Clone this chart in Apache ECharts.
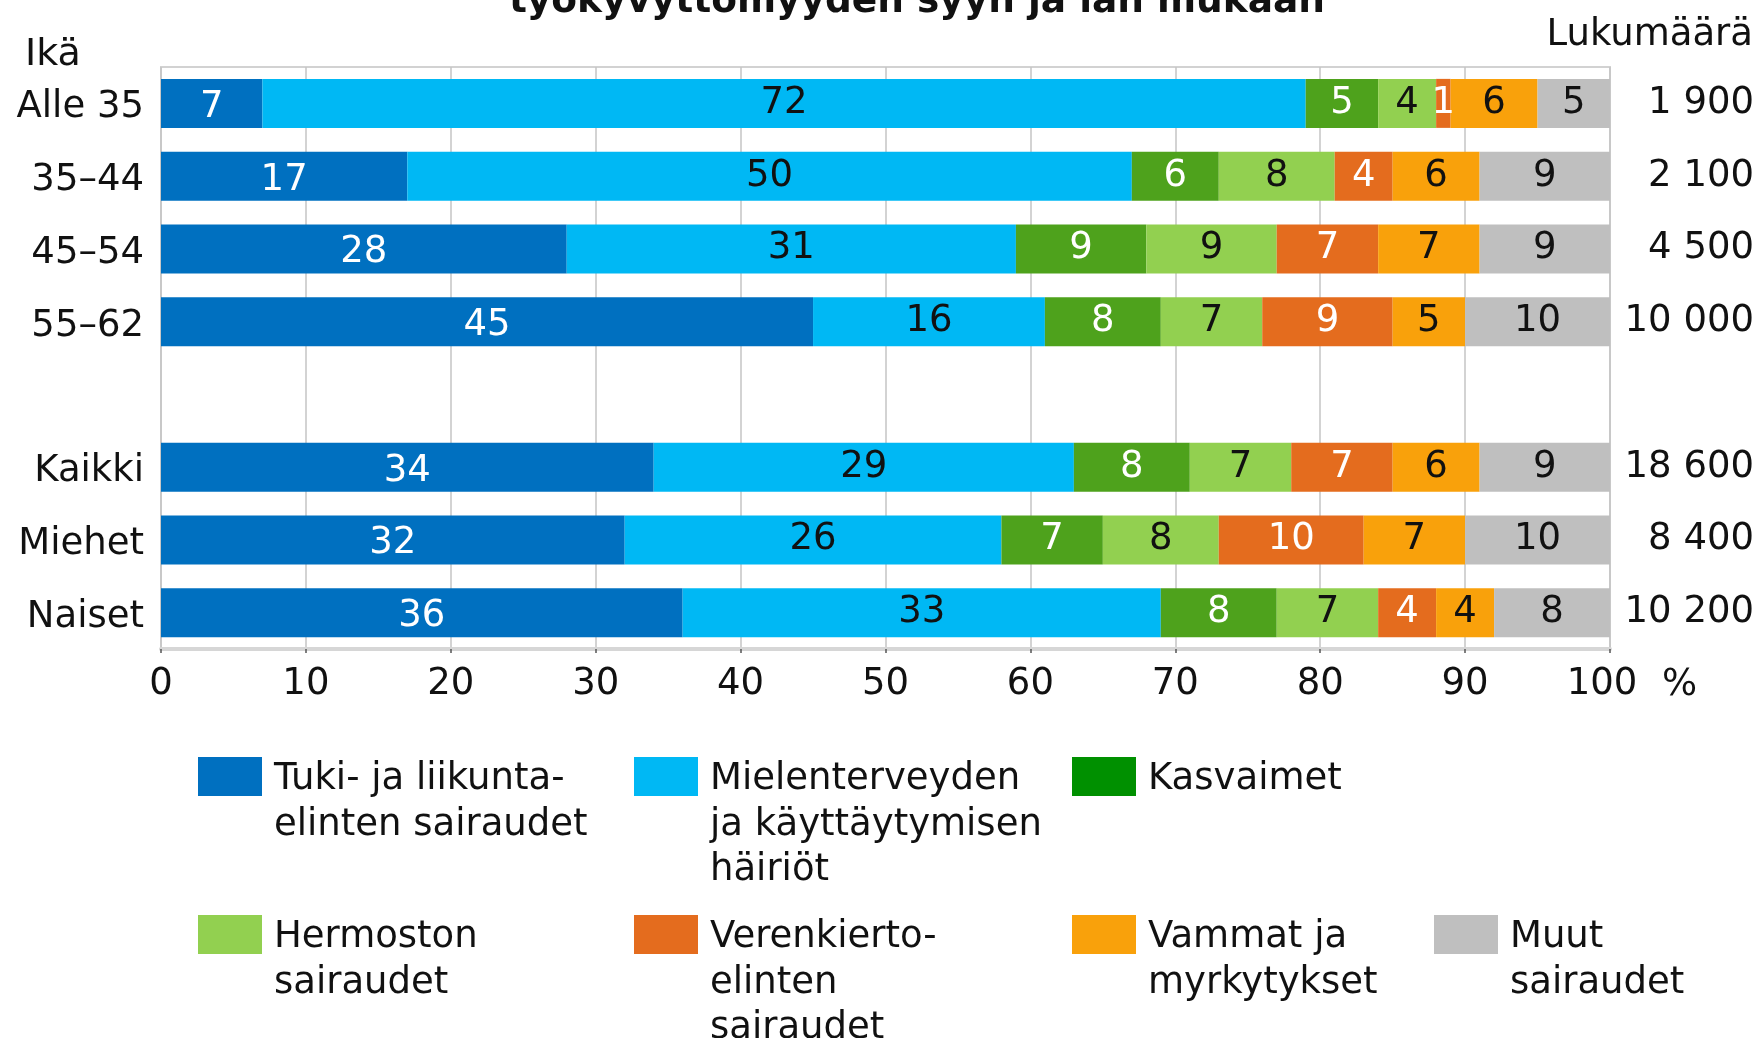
<!DOCTYPE html>
<html><head><meta charset="utf-8">
<script src="https://cdn.jsdelivr.net/npm/echarts@6/dist/echarts.min.js"></script>
<style>html,body{margin:0;padding:0;background:#fff}#c{width:1760px;height:1038px}</style>
</head><body><div id="c"></div>
<script>
const categories = ['Alle 35', '35–44', '45–54', '55–62', '', 'Kaikki', 'Miehet', 'Naiset'];
const counts = ['1 900', '2 100', '4 500', '10 000', '', '18 600', '8 400', '10 200'];
const seriesNames = ['Tuki- ja liikuntaelinten sairaudet', 'Mielenterveyden ja käyttäytymisen häiriöt', 'Kasvaimet', 'Hermoston sairaudet', 'Verenkiertoelinten sairaudet', 'Vammat ja myrkytykset', 'Muut sairaudet'];
const legendLabels = ['Tuki- ja liikunta-\nelinten sairaudet', 'Mielenterveyden\nja käyttäytymisen\nhäiriöt', 'Kasvaimet', 'Hermoston\nsairaudet', 'Verenkierto-\nelinten\nsairaudet', 'Vammat ja\nmyrkytykset', 'Muut\nsairaudet'];
const tuki = [7, 17, 28, 45, null, 34, 32, 36];
const mieli = [72, 50, 31, 16, null, 29, 26, 33];
const kasvaimet = [5, 6, 9, 8, null, 8, 7, 8];
const hermosto = [4, 8, 9, 7, null, 7, 8, 7];
const verenkierto = [1, 4, 7, 9, null, 7, 10, 4];
const vammat = [6, 6, 7, 5, null, 6, 7, 4];
const muut = [5, 9, 9, 10, null, 9, 10, 8];
const xTicks = [0, 10, 20, 30, 40, 50, 60, 70, 80, 90, 100];
const titleText = 'työkyvyttömyyden syyn ja iän mukaan';

const values = [tuki, mieli, kasvaimet, hermosto, verenkierto, vammat, muut];
const barColors = ['#0070C0', '#00B8F4', '#4EA21C', '#92D050', '#E46C1E', '#F9A10B', '#BFBFBF'];
const legendColors = ['#0070C0', '#00B8F4', '#009000', '#92D050', '#E46C1E', '#F9A10B', '#BFBFBF'];
const labelColors = ['#fff', '#111', '#fff', '#111', '#fff', '#111', '#111'];
const labelShift = [4, 0, 0, 0, 0, 0, 0];
const legendPos = [[198, 757], [634, 757], [1072, 757], [198, 915], [634, 915], [1072, 915], [1434, 915]];
const FONT = '"DejaVu Sans", Verdana, sans-serif';
const FS = 37;
const LH = 45.5;
const SW = 64, SH = 39;

const chart = echarts.init(document.getElementById('c'), null, {renderer: 'canvas'});

const series = seriesNames.map((n, i) => ({
  name: n,
  type: 'bar',
  stack: 'total',
  yAxisIndex: 0,
  barWidth: 49,
  data: values[i],
  itemStyle: {color: barColors[i]},
  label: {
    show: true, position: 'inside', color: labelColors[i], fontSize: FS, fontFamily: FONT,
    offset: [0, labelShift[i]],
    formatter: p => (p.value == null ? '' : String(p.value))
  },
  emphasis: {disabled: true}
}));

// Legend: swatch aligned with the first text line (icon box spans whole text block height)
const legends = seriesNames.map((n, i) => {
  const lines = legendLabels[i].split('\n').length;
  const H = lines * LH;
  const icon = `path://M0,0L${SW},0L${SW},${SH}L0,${SH}Z M0,${H}L${SW},${H}Z`;
  return {
    show: true, left: legendPos[i][0], top: legendPos[i][1], padding: 0,
    orient: 'horizontal', icon: icon, itemWidth: SW, itemHeight: H, symbolKeepAspect: false,
    selectedMode: false,
    data: [{name: n, itemStyle: {color: legendColors[i], borderWidth: 0}}],
    formatter: () => legendLabels[i],
    textStyle: {fontSize: FS, fontFamily: FONT, color: '#111', lineHeight: LH, padding: [0, 0, 0, 7]}
  };
});

chart.setOption({
  animation: false,
  backgroundColor: '#fff',
  grid: {left: 161, right: 150, top: 67, bottom: 389, show: true, borderColor: '#d2d2d2', borderWidth: 2, backgroundColor: 'transparent'},
  xAxis: {
    type: 'value', min: 0, max: 100, interval: 10,
    axisLine: {show: true, lineStyle: {color: '#d6d6d6', width: 4}},
    axisTick: {show: true, length: 4, lineStyle: {color: '#555', width: 1.5}},
    splitLine: {show: true, lineStyle: {color: '#c4c4c4', width: 1.5}},
    axisLabel: {
      fontSize: FS, fontFamily: FONT, color: '#111', margin: 17,
      formatter: v => (v === 100 ? '{p|100}' : String(v)),
      rich: {p: {fontSize: FS, fontFamily: FONT, color: '#111', padding: [0, 16, 0, 0]}}
    }
  },
  yAxis: [
    {
      type: 'category', data: categories, inverse: true,
      axisLine: {show: false}, axisTick: {show: false}, splitLine: {show: false},
      axisLabel: {
        fontSize: FS, fontFamily: FONT, color: '#111', margin: 17,
        formatter: v => '{a|' + v + '}',
        rich: {a: {fontSize: FS, fontFamily: FONT, color: '#111', padding: [9, 0, 0, 0]}}
      }
    },
    {
      type: 'category', data: counts, inverse: true, position: 'right',
      axisLabel: {fontSize: FS, fontFamily: FONT, color: '#111', margin: 144, align: 'right'},
      axisLine: {show: false}, axisTick: {show: false}, splitLine: {show: false}
    }
  ],
  legend: legends,
  graphic: [
    {type: 'text', x: 917, y: 2, silent: true,
     style: {text: titleText, font: 'bold 37.5px ' + FONT, fill: '#111', align: 'center', verticalAlign: 'middle'}},
    {type: 'text', x: 25, y: 55, silent: true,
     style: {text: 'Ikä', font: '38px ' + FONT, fill: '#111', align: 'left', verticalAlign: 'middle'}},
    {type: 'text', x: 1753, y: 35, silent: true,
     style: {text: 'Lukumäärä', font: FS + 'px ' + FONT, fill: '#111', align: 'right', verticalAlign: 'middle'}},
    {type: 'text', x: 1662, y: 685, silent: true,
     style: {text: '%', font: FS + 'px ' + FONT, fill: '#111', align: 'left', verticalAlign: 'middle'}}
  ],
  series: series
});
</script></body></html>
